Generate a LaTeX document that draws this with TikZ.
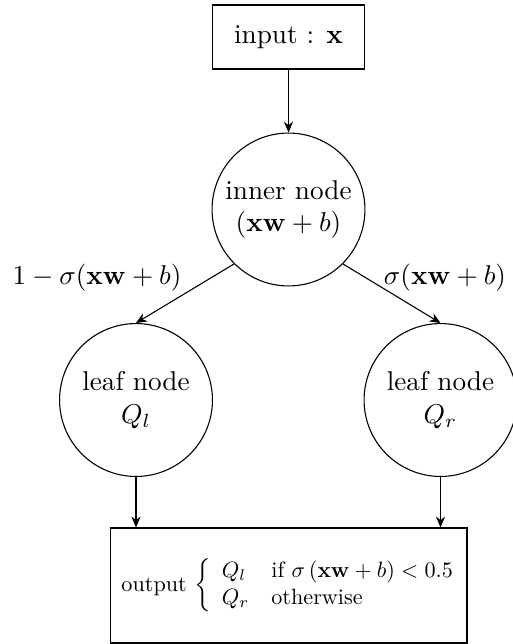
\documentclass[tikz,border=0pt]{standalone}
\usepackage{amsmath}
\usetikzlibrary{arrows.meta}
\begin{document}
\begin{tikzpicture}[x=0.3676pt,y=-0.3676pt,
  boxnode/.style={draw,rectangle,inner sep=0pt,align=center},
  circnode/.style={draw,circle,minimum size=56.2pt,inner sep=0pt,align=center},
  arr/.style={-{Stealth[length=4pt,width=3.4pt]}}]
\useasboundingbox (0,0) rectangle (512,644);
\node[boxnode,minimum width=56.2pt,minimum height=23.5pt] (in) at (288.5,37) {input : $\mathbf{x}$};
\node[circnode] (inner) at (288.5,209.5) {inner node\\$(\mathbf{xw}+b)$};
\node[circnode] (leafl) at (136,400) {leaf node\\$Q_l$};
\node[circnode] (leafr) at (440.5,400) {leaf node\\$Q_r$};
\node[boxnode,minimum width=131.2pt,minimum height=42.3pt] (out) at (288.5,585.5)
  {\scalebox{0.815}{output $\left\{\begin{array}{ll@{}} Q_l & \text{if } \sigma\left(\mathbf{xw}+b\right) < 0.5\\ Q_r & \text{otherwise}\end{array}\nulldelimiterspace=0pt\right.$}};
\draw[arr] (in) -- (inner);
\draw[arr] (inner.south west) -- (leafl.north);
\draw[arr] (inner.south east) -- (leafr.north);
\draw[arr] (leafl.south) -- (leafl.south |- out.north);
\draw[arr] (leafr.south) -- (leafr.south |- out.north);
\node (ll) at (97,278) {$1-\sigma(\mathbf{xw}+b)$};
\node (rl) at (445,278) {$\sigma(\mathbf{xw}+b)$};
\end{tikzpicture}
\end{document}
